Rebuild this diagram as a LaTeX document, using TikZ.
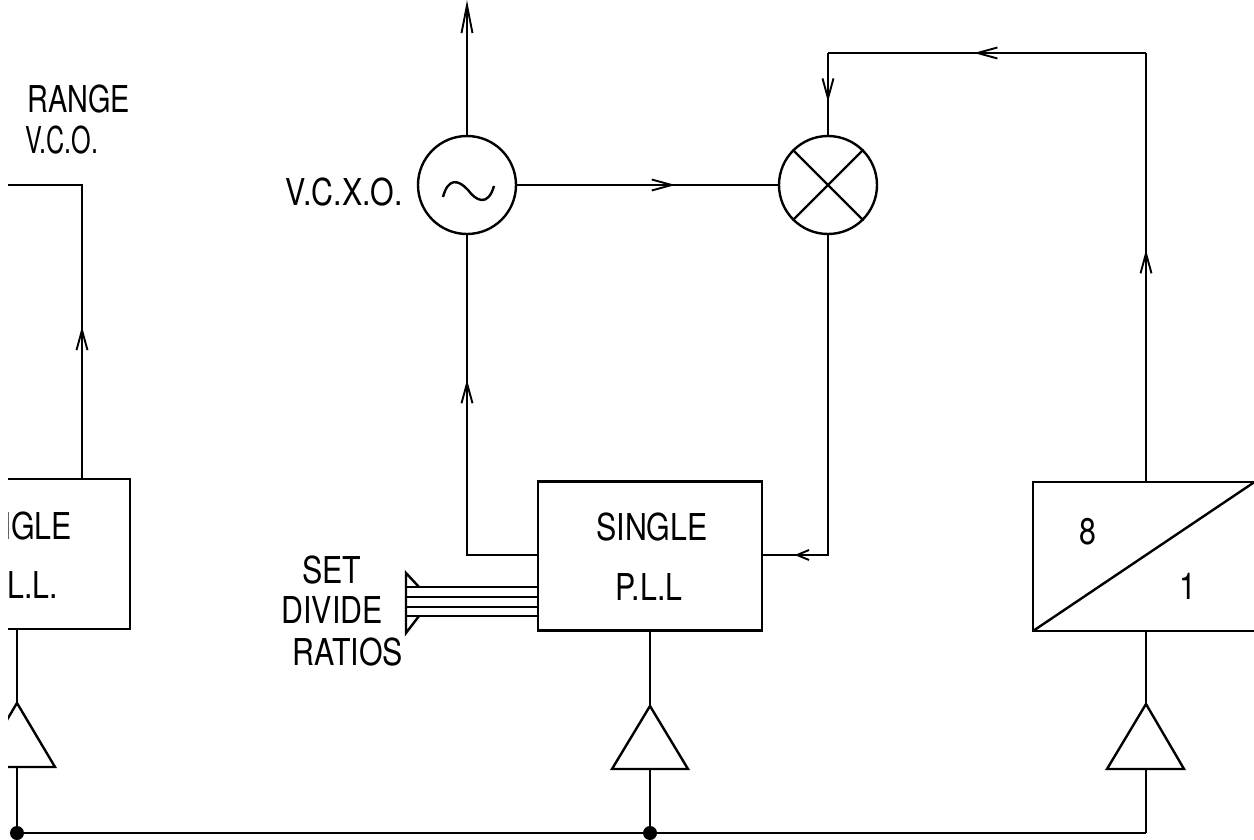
\documentclass[tikz,border=0pt]{standalone}
\usepackage{fontspec}
\setmainfont[FakeStretch=0.82]{TeX Gyre Heros}
\usetikzlibrary{decorations.markings}
\tikzset{
  x=1pt,y=-1pt,
  wire/.style={line width=2.4pt,line join=miter},
  blockbox/.style={draw,line width=2.4pt,inner sep=0pt},
  lbl/.style={font=\fontsize{37}{37}\selectfont,inner sep=0pt,align=center},
  dotn/.style={circle,fill=black,inner sep=0pt,minimum size=14pt},
  circ/.style={circle,draw,line width=2.4pt,minimum size=98pt,inner sep=0pt},
  barb/.style={line width=1.9pt},
  flow/.style={postaction={decorate},decoration={markings,mark=at position #1 with {\draw[barb] (-20pt,-5.5pt) -- (0,0) -- (-20pt,5.5pt);}}},
  flowshort/.style={postaction={decorate},decoration={markings,mark=at position #1 with {\draw[barb] (-12pt,-5pt) -- (0,0) -- (-12pt,5pt);}}},
  flowlong/.style={postaction={decorate},decoration={markings,mark=at position #1 with {\draw[barb] (-28pt,-5.5pt) -- (0,0) -- (-28pt,5.5pt);}}},
}
\begin{document}
\begin{tikzpicture}
\useasboundingbox (0,0) rectangle (1254,840);
\fill[white] (0,0) rectangle (1254,840);
% clipped parts
\begin{scope}
\clip (8,0) rectangle (1254,840);
\node[lbl,anchor=base east] (s1) at (72,539) {SINGLE};
\node[lbl,anchor=base east] (p1) at (58,598) {P.L.L.};
\coordinate (b1tl) at (-60,479);
\coordinate (b1br) at (130,629);
\draw[wire] (b1tl) rectangle (b1br);
\coordinate (a1t) at (17,703);
\draw[wire] (-21,767) -- (a1t) -- (55,767) -- cycle;
\coordinate (vcoL) at (-20,185);
\coordinate (vcoC) at (82,185);
\coordinate (b1t) at (82,479);
\draw[wire,flow=0.376] (b1t) -- (vcoC) -- (vcoL);
\end{scope}
\coordinate (b1b) at (17,629);
\node[dotn] (d1) at (17,833) {};
\draw[wire] (b1b) -- (a1t);
\draw[wire] (17,767) -- (d1.center);
\node[lbl,anchor=base west] (range) at (27,113) {\scalebox{0.95}[1]{RANGE}};
\node[lbl,anchor=base west] (vco) at (25,154) {\scalebox{0.83}[1]{V.C.O.}};
% VCXO
\node[circ] (osc) at (467,185) {};
\draw[line width=2.4pt] (443,197) .. controls (448,178) and (458,179) .. (468,190) .. controls (476,201) and (488,207) .. (494,186);
\node[lbl,anchor=base east] (vcxo) at (403,206) {V.C.X.O.};
% mixer
\node[circ] (mix) at (828,185) {};
\draw[line width=2.4pt] (mix.45) -- (mix.225) (mix.135) -- (mix.315);
\draw[wire,flow=0.593] (osc.east) -- (mix.west);
\coordinate (outT) at (467,5);
\draw[wire,flowlong=0.999] (osc.north) -- (outT);
% main PLL
\node[blockbox,minimum width=224pt,minimum height=149pt] (pll) at (650,556) {};
\node[lbl,anchor=base] (s2) at (652,540) {SINGLE};
\node[lbl,anchor=base] (p2) at (649,600) {P.L.L};
\coordinate (c1) at (467,555);
\draw[wire,flow=0.62] (pll.west |- c1) -- (c1) -- (osc.south);
\coordinate (c2) at (828,555);
\draw[wire,flowshort=0.912] (mix.south) -- (c2) -- (pll.east |- c2);
% bus
\coordinate (bt1) at (406,573);
\coordinate (bb1) at (406,633);
\coordinate (btt) at (419,587);
\coordinate (bbb) at (419,616);
\draw[wire] (btt) -- (bt1) -- (bb1) -- (bbb);
\foreach \yy in {587,597,607,616}{\draw[wire] (406,\yy) -- (538,\yy);}
\node[lbl,anchor=base] (set) at (332,583) {SET};
\node[lbl,anchor=base] (div) at (332,623) {DIVIDE};
\node[lbl,anchor=base] (rat) at (348,665) {RATIOS};
% amp 2
\coordinate (a2t) at (650,706);
\draw[wire] (612,769) -- (a2t) -- (688,769) -- cycle;
\draw[wire] (pll.south -| a2t) -- (a2t);
\node[dotn] (d2) at (650,833) {};
\draw[wire] (650,769) -- (d2.center);
% 8:1
\begin{scope}
\clip (0,0) rectangle (1254,840);
\draw[wire] (1256,482) -- (1033,482) -- (1033,631) -- (1256,631);
\draw[wire] (1033,631) -- (1256,481);
\end{scope}
\node[lbl,anchor=base] (n8) at (1088,544) {8};
\node[lbl,anchor=base] (n1) at (1188,599) {1};
\coordinate (a3t) at (1146,704);
\draw[wire] (1107,769) -- (a3t) -- (1184,769) -- cycle;
\draw[wire] (1146,631) -- (a3t);
\coordinate (bus3) at (1146,833);
\draw[wire] (1146,769) -- (bus3);
\draw[wire] (d1.center) -- (d2.center) -- (bus3);
% feedback
\coordinate (f1) at (1146,53);
\coordinate (f2) at (828,53);
\draw[wire,flow=0.533] (1146,482) -- (f1);
\draw[wire,flow=0.53] (f1) -- (f2);
\draw[wire,flow=0.555] (f2) -- (mix.north);
\end{tikzpicture}
\end{document}
